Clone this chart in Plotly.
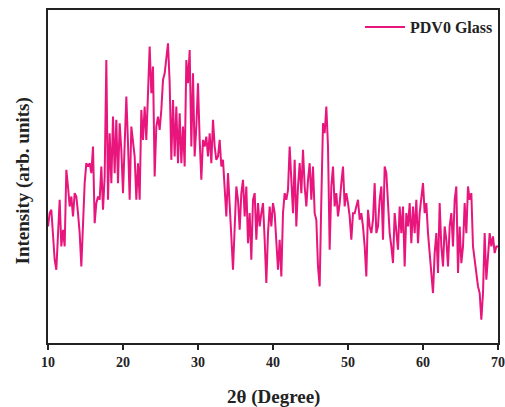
import numpy as np
import plotly.graph_objects as go

intensity = [
    35, 39, 40, 33, 25, 22, 33, 43, 29, 34, 29, 52, 47, 41, 44, 38, 45, 44, 39, 33,
    23, 37, 48, 54, 53, 54, 51, 59, 36, 42, 44, 43, 53, 40, 50, 85, 43, 63, 48, 68,
    51, 67, 48, 66, 58, 45, 63, 74, 60, 43, 65, 61, 56, 43, 54, 43, 70, 61, 71, 61,
    78, 89, 75, 83, 50, 65, 68, 64, 70, 79, 81, 85, 90, 78, 55, 73, 56, 71, 54, 69,
    54, 65, 53, 85, 78, 88, 59, 81, 56, 65, 78, 61, 49, 61, 59, 62, 56, 63, 54, 67,
    59, 55, 56, 61, 53, 55, 47, 38, 51, 43, 32, 22, 38, 47, 43, 34, 45, 49, 38, 47,
    30, 39, 25, 43, 45, 31, 42, 35, 39, 42, 31, 18, 33, 41, 35, 42, 39, 31, 22, 31,
    20, 39, 45, 43, 46, 59, 47, 39, 55, 35, 47, 54, 45, 58, 47, 41, 49, 54, 43, 53,
    39, 37, 23, 17, 43, 66, 63, 71, 59, 28, 47, 53, 41, 45, 38, 42, 48, 53, 41, 45,
    42, 38, 31, 39, 39, 41, 43, 37, 39, 35, 29, 20, 40, 35, 33, 37, 48, 33, 35, 43,
    47, 31, 53, 51, 41, 33, 29, 24, 39, 33, 28, 41, 33, 41, 23, 39, 35, 42, 30, 41,
    33, 43, 30, 39, 44, 48, 39, 42, 33, 28, 21, 15, 27, 33, 21, 42, 29, 23, 35, 31,
    23, 35, 39, 29, 43, 47, 21, 35, 24, 29, 42, 33, 47, 43, 45, 29, 25, 21, 17, 15,
    7, 15, 33, 19, 25, 33, 29, 32, 27, 29, 29,
]
two_theta = np.linspace(10, 70, len(intensity))
x_ticks = [10, 20, 30, 40, 50, 60, 70]
series_name = "PDV0 Glass"

FONT = "Liberation Serif"
INK = "#222"

fig = go.Figure()
fig.add_trace(go.Scatter(
    x=two_theta, y=intensity, mode="lines", name=f"<b>{series_name}</b>",
    line=dict(color="#E8157C", width=2),
))

fig.update_layout(
    width=505, height=407,
    margin=dict(l=48, r=7, t=10, b=64, autoexpand=False),
    paper_bgcolor="white", plot_bgcolor="white",
    font=dict(family=FONT, color=INK),
    showlegend=True,
    legend=dict(
        x=1, y=1, xanchor="right", yanchor="top",
        bgcolor="rgba(0,0,0,0)", borderwidth=0,
        font=dict(family=FONT, size=16, color=INK),
        itemwidth=40, tracegroupgap=0,
    ),
    xaxis=dict(
        range=[10, 70], tickvals=x_ticks, ticktext=[f"<b>{t}</b>" for t in x_ticks],
        ticks="outside", ticklen=5, tickwidth=1.5, tickcolor=INK,
        showline=True, linecolor=INK, linewidth=2, mirror=True,
        showgrid=False, zeroline=False, automargin=False,
        tickfont=dict(family=FONT, size=14, color=INK),
    ),
    yaxis=dict(
        range=[0, 100], showticklabels=False, ticks="",
        showline=True, linecolor=INK, linewidth=2, mirror=True,
        showgrid=False, zeroline=False, automargin=False,
    ),
    annotations=[
        dict(text="<b>2θ (Degree)</b>", xref="paper", yref="paper", x=0.5, y=0,
             xanchor="center", yanchor="middle", yshift=-54, showarrow=False,
             font=dict(family=FONT, size=19, color=INK)),
        dict(text="<b>Intensity (arb. units)</b>", xref="paper", yref="paper", x=0, y=0.485,
             xanchor="center", yanchor="middle", xshift=-25, textangle=-90, showarrow=False,
             font=dict(family=FONT, size=19, color=INK)),
    ],
)

fig.write_html(
    "out.html",
    config={"displayModeBar": False},
    post_script="document.body.style.margin='0';document.body.style.overflow='hidden';",
)
